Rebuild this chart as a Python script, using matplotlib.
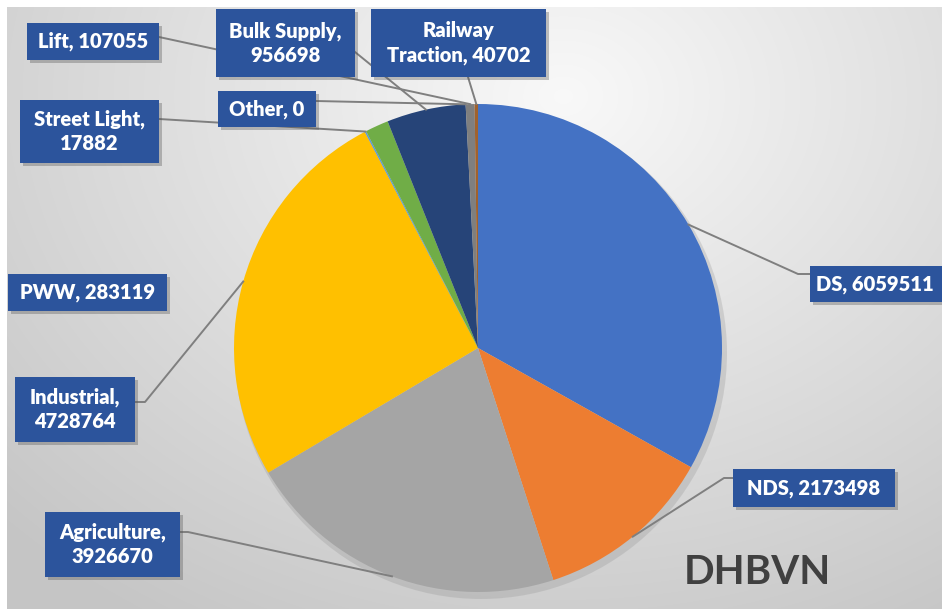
import numpy as np
import matplotlib.pyplot as plt
from matplotlib.patches import Rectangle, Circle

# data (clockwise from 12 o'clock)
categories = ['DS', 'NDS', 'Agriculture', 'Industrial', 'Street Light', 'PWW',
              'Bulk Supply', 'Other', 'Lift', 'Railway Traction']
values = [6059511, 2173498, 3926670, 4728764, 17882, 283119,
          956698, 0, 107055, 40702]
colors = ['#4472C4', '#ED7D31', '#A5A5A5', '#FFC000', '#5B9BD5', '#70AD47',
          '#264478', '#9E480E', '#7F7F7F', '#A0622D']
chart_title = 'DHBVN'

# where the label text wraps (category -> text before / after the break)
wrap_after_comma = ['Agriculture', 'Industrial', 'Street Light', 'Bulk Supply']
wrap_inside = {'Railway Traction': ('Railway', 'Traction')}

W, H = 942, 609
CX, CY, R = 478, 348, 244  # pie centre / radius in image pixels (y down)

# label boxes in image pixels: x0, y0, x1, y1 ; leader line start (+ elbow)
layout = {
    'DS': dict(box=(810, 266, 950, 302), ha='left', tx=816, line=[(810, 274), (798, 274)]),
    'NDS': dict(box=(733, 469, 895, 507), line=[(733, 478), (724, 478)]),
    'Agriculture': dict(box=(45, 512, 180, 577), line=[(180, 532), (188, 532)]),
    'Industrial': dict(box=(15, 377, 135, 442), line=[(135, 402), (145, 402)]),
    'PWW': dict(box=(8, 274, 167, 311), line=None),
    'Street Light': dict(box=(20, 100, 159, 163), line=[(159, 119)]),
    'Bulk Supply': dict(box=(216, 9, 355, 77), line=[(355, 52)]),
    'Other': dict(box=(218, 91, 316, 127), line=[(316, 101)]),
    'Lift': dict(box=(27, 23, 159, 60), line=[(159, 37)]),
    'Railway Traction': dict(box=(371, 9, 546, 77), line=[(468, 77)]),
}


def label_text(cat, val):
    if cat in wrap_inside:
        a, b = wrap_inside[cat]
        return a + '\n' + b + ', ' + str(val)
    if cat in wrap_after_comma:
        return cat + ',\n' + str(val)
    return cat + ', ' + str(val)


def Y(y):
    return H - y


plt.rcParams['font.family'] = ['Lato', 'DejaVu Sans']

fig = plt.figure(figsize=(W / 100, H / 100), dpi=100)
fig.patch.set_facecolor('white')
ax = fig.add_axes([0, 0, 1, 1])

# soft radial background like the Excel chart area
yy, xx = np.mgrid[0:H, 0:W]
rr = np.hypot(xx - 560, (yy - 90) * 1.25)
t = np.clip(rr / 780, 0, 1)
shade = 0.975 - 0.20 * t
ax.imshow(np.dstack([shade] * 3), extent=[7, W, 0, H - 7], origin='upper', zorder=0)

# pie shadow
ax.add_patch(Circle((CX + 3, Y(CY) - 5), R + 2, color='#8a8a8a', alpha=0.25, lw=0, zorder=1))

wedges, _ = ax.pie(values, colors=colors, startangle=90, counterclock=False,
                   center=(CX, Y(CY)), radius=R,
                   wedgeprops=dict(linewidth=0, zorder=2))

# labels and leader lines
for cat, val, wedge in zip(categories, values, wedges):
    lay = layout[cat]
    x0, y0, x1, y1 = lay['box']
    ax.add_patch(Rectangle((x0 + 3, Y(y1) - 3), x1 - x0, y1 - y0, color='#555555',
                           alpha=0.35, lw=0, zorder=4))
    ax.add_patch(Rectangle((x0, Y(y1)), x1 - x0, y1 - y0, color='#2C549C', lw=0, zorder=5))
    if lay.get('ha') == 'left':
        ax.text(lay['tx'], Y((y0 + y1) / 2), label_text(cat, val), color='white',
                fontsize=14.5, fontweight='heavy', ha='left', va='center', zorder=6)
    else:
        ax.text((x0 + x1) / 2, Y((y0 + y1) / 2), label_text(cat, val), color='white',
                fontsize=14.5, fontweight='heavy', ha='center', va='center',
                multialignment='center', linespacing=1.3, zorder=6)

    if lay['line']:
        mid = np.deg2rad((wedge.theta1 + wedge.theta2) / 2)
        px = wedge.center[0] + wedge.r * np.cos(mid)
        py = wedge.center[1] + wedge.r * np.sin(mid)
        xs = [p[0] for p in lay['line']] + [px]
        ys = [Y(p[1]) for p in lay['line']] + [py]
        ax.plot(xs, ys, color='#7F7F7F', lw=1.4, zorder=3)

ax.text(757, Y(573), chart_title, fontsize=29, fontweight='bold', color='#404040',
        ha='center', va='center', zorder=6)

ax.set_xlim(0, W)
ax.set_ylim(0, H)
ax.axis('off')

fig.savefig('out.png', dpi=100)
